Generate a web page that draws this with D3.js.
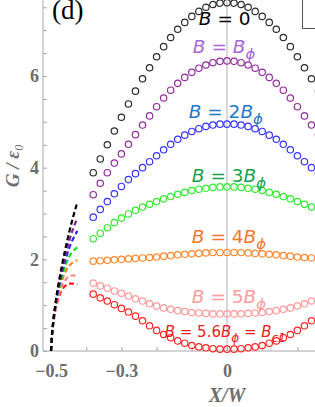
<!DOCTYPE html>
<html>
<head>
<meta charset="utf-8">
<script src="https://cdn.jsdelivr.net/npm/d3@7"></script>
<style>
  body { margin: 0; background: #fff; }
  svg { display: block; }
</style>
</head>
<body>
<div id="chart"></div>
<script>
// X/W positions of the markers
var xs = [-0.38,-0.36,-0.34,-0.32,-0.30,-0.28,-0.26,-0.24,-0.22,-0.20,-0.18,-0.16,-0.14,-0.12,-0.10,-0.08,-0.06,-0.04,-0.02,0,
          0.02,0.04,0.06,0.08,0.10,0.12,0.14,0.16,0.18,0.20,0.22,0.24,0.26];

// G / eps0 for each field value
var g0   = [3.89,4.19,4.50,4.80,5.10,5.39,5.67,5.94,6.18,6.42,6.64,6.84,7.02,7.17,7.30,7.41,7.50,7.56,7.59,7.60,
            7.59,7.56,7.50,7.41,7.30,7.17,7.02,6.84,6.64,6.42,6.18,5.94,5.67];
var g1   = [3.41,3.66,3.89,4.10,4.30,4.51,4.72,4.93,5.13,5.33,5.52,5.69,5.84,5.97,6.08,6.17,6.24,6.29,6.32,6.33,
            6.32,6.29,6.24,6.17,6.08,5.97,5.84,5.69,5.52,5.33,5.13,4.93,4.72];
var g2   = [2.92,3.09,3.26,3.43,3.59,3.74,3.87,4.00,4.13,4.26,4.39,4.51,4.62,4.71,4.79,4.85,4.90,4.93,4.95,4.95,
            4.95,4.93,4.90,4.85,4.79,4.71,4.62,4.51,4.39,4.26,4.13,4.00,3.87];
var g3   = [2.45,2.57,2.69,2.80,2.90,2.99,3.07,3.14,3.20,3.26,3.32,3.37,3.42,3.46,3.50,3.53,3.55,3.57,3.58,3.58,
            3.58,3.57,3.55,3.53,3.50,3.46,3.42,3.37,3.32,3.26,3.20,3.14,3.07];
var g4   = [1.96,1.97,1.98,1.99,2.00,2.01,2.02,2.03,2.04,2.05,2.07,2.08,2.10,2.11,2.12,2.13,2.14,2.15,2.15,2.15,
            2.15,2.15,2.14,2.13,2.12,2.11,2.10,2.08,2.07,2.05,2.04,2.03,2.02];
var g5   = [1.48,1.42,1.37,1.31,1.26,1.20,1.14,1.09,1.03,0.98,0.94,0.91,0.88,0.86,0.84,0.83,0.82,0.81,0.81,0.81,
            0.81,0.81,0.82,0.83,0.84,0.86,0.88,0.91,0.94,0.98,1.03,1.09,1.14];
var g56  = [1.24,1.16,1.09,1.01,0.93,0.85,0.76,0.66,0.55,0.45,0.36,0.29,0.22,0.17,0.12,0.09,0.07,0.05,0.04,0.04,
            0.04,0.05,0.07,0.09,0.12,0.17,0.22,0.29,0.36,0.45,0.55,0.66,0.76];

// dashed branches near the edge
var dashX   = [-0.5,-0.497,-0.493,-0.488,-0.482,-0.475,-0.467,-0.458,-0.448,-0.437,-0.425];
var dash0   = [0,0.38,0.70,1.00,1.32,1.62,1.94,2.27,2.60,2.93,3.25];
var dash1   = [0,0.37,0.68,0.97,1.27,1.55,1.84,2.13,2.41,2.67,2.90];
var dash2   = [0,0.37,0.67,0.95,1.23,1.49,1.76,2.01,2.25,2.45,2.62];
var dash3   = [0,0.36,0.66,0.93,1.19,1.43,1.67,1.88,2.06,2.18,2.26];
var dash4   = [0,0.36,0.65,0.91,1.15,1.37,1.57,1.74,1.86,1.94,1.98];
var dash5   = [0,0.35,0.63,0.88,1.10,1.29,1.45,1.56,1.63,1.65,1.63];
var dash56  = [0,0.35,0.62,0.86,1.06,1.23,1.35,1.43,1.47,1.47,1.45];

var yTicks = [0,0.5,1,1.5,2,2.5,3,3.5,4,4.5,5,5.5,6,6.5,7,7.5];
var yLabels = [0,2,4,6];
var xTicks = [-0.5,-0.4,-0.3,-0.2,-0.1,0,0.1,0.2];
var xLabels = [-0.5,-0.3,0];

var labels = [
  [["B","i"],[" = 0",""]],
  [["B","i"],[" = ",""],["B","i"],["ϕ","s"]],
  [["B","i"],[" = 2",""],["B","i"],["ϕ","s"]],
  [["B","i"],[" = 3",""],["B","i"],["ϕ","s"]],
  [["B","i"],[" = 4",""],["B","i"],["ϕ","s"]],
  [["B","i"],[" = 5",""],["B","i"],["ϕ","s"]],
  [["B","i"],[" = 5.6",""],["B","i"],["ϕ","s"],[" = ",""],["B","i"],["c1","s"]]
];

var series = [g0, g1, g2, g3, g4, g5, g56];
var dashes = [dash0, dash1, dash2, dash3, dash4, dash5, dash56];
var markColor = ["#2b2b2b","#922e9e","#3535ff","#33ea33","#ff8a30","#ff9a9a","#ff2626"];
var dashColor = ["#000000","#8a1f96","#2a2aff","#22dd22","#ff8420","#ff8a8a","#ff1a1a"];
var textColor = ["#000000","#a866d8","#1f78c8","#16a14e","#f07a2c","#ff9c9c","#ee1c1c"];
// label anchor (X/W, G) and font size
var labelPos = [[-0.08,7.12,18.5],[-0.097,6.51,18.5],[-0.109,5.09,18.5],[-0.1,3.69,18.5],[-0.1,2.36,18.5],[-0.1,1.05,18.5],[-0.177,0.31,15]];

width = 315
height = 407

var x = d3.scaleLinear().domain([-0.5, 0]).range([51, 227]);
var y = d3.scaleLinear().domain([0, 6]).range([351, 76]);
var axisX = 43, axisY = 351;

var svg = d3.select("#chart").append("svg")
    .attr("width", width)
    .attr("height", height)
    .style("font-family", "'DejaVu Sans'");

// zero line
svg.append("line")
    .attr("x1", x(0)).attr("x2", x(0))
    .attr("y1", 0).attr("y2", axisY)
    .attr("stroke", "#b0b0b0").attr("stroke-width", 1);

// axes
svg.append("line")
    .attr("x1", axisX).attr("x2", axisX).attr("y1", 0).attr("y2", axisY)
    .attr("stroke", "#a8a8a8");
svg.append("line")
    .attr("x1", axisX).attr("x2", width).attr("y1", axisY).attr("y2", axisY)
    .attr("stroke", "#a8a8a8");

var yAxis = svg.append("g")
    .attr("transform", "translate(" + axisX + ",0)")
    .call(d3.axisLeft(y).tickValues(yTicks).tickSizeInner(-4).tickSizeOuter(0).tickPadding(4)
      .tickFormat(function(d) { return yLabels.indexOf(d) >= 0 ? d : ""; }));

var xAxis = svg.append("g")
    .attr("transform", "translate(0," + axisY + ")")
    .call(d3.axisBottom(x).tickValues(xTicks).tickSizeInner(-4).tickSizeOuter(0).tickPadding(13)
      .tickFormat(function(d) { return xLabels.indexOf(d) >= 0 ? (d == 0 ? "0" : d3.format(".1f")(d).replace("-", "\u2212")) : ""; }));

svg.selectAll(".domain").remove();
svg.selectAll(".tick line").attr("stroke", "#a8a8a8");
svg.selectAll(".tick text")
    .attr("fill", "#6e6e6e")
    .style("font-family", "'Liberation Serif'")
    .style("font-weight", "bold")
    .style("font-size", "18px");

// axis titles
svg.append("text")
    .attr("transform", "translate(19,166) rotate(-90)")
    .attr("text-anchor", "middle")
    .attr("fill", "#6e6e6e")
    .style("font-family", "'Liberation Serif'")
    .style("font-weight", "bold")
    .style("font-style", "italic")
    .style("font-size", "19px")
    .call(function(t) {
      t.append("tspan").text("G / \u03b5");
      t.append("tspan").text("0").attr("dy", 4).style("font-size", "12px").style("font-weight", "normal");
    });

svg.append("text")
    .attr("x", x(0)).attr("y", 402)
    .attr("text-anchor", "middle")
    .attr("fill", "#6e6e6e")
    .style("font-family", "'Liberation Serif'")
    .style("font-weight", "bold")
    .style("font-style", "italic")
    .style("font-size", "20px")
    .text("X/W");

// panel tag and legend box corner
svg.append("text")
    .attr("x", 52).attr("y", 19)
    .style("font-family", "'Liberation Serif'")
    .style("font-size", "27px")
    .text("(d)");

svg.append("rect")
    .attr("x", 302.5).attr("y", -5).attr("width", 40).attr("height", 33.5)
    .attr("fill", "#fff").attr("stroke", "#555").attr("stroke-width", 1);

// dashed branches
var line = d3.line()
    .x(function(d) { return x(d[0]); })
    .y(function(d) { return y(d[1]); })
    .curve(d3.curveMonotoneX);

for (var i = dashes.length - 1; i >= 0; i--) {
  svg.append("path")
      .datum(dashX.map(function(v, j) { return [v, dashes[i][j]]; }))
      .attr("d", line)
      .attr("fill", "none")
      .attr("stroke", dashColor[i])
      .attr("stroke-width", 2.2)
      .attr("stroke-dasharray", "5,3");
}

// markers
series.forEach(function(s, i) {
  svg.append("g")
    .selectAll("circle")
    .data(xs.map(function(v, j) { return [v, s[j]]; }))
    .enter().append("circle")
      .attr("cx", function(d) { return x(d[0]); })
      .attr("cy", function(d) { return y(d[1]); })
      .attr("r", 3.2)
      .attr("fill", "none")
      .attr("stroke", markColor[i])
      .attr("stroke-width", 1.2);
});

// curve labels
labels.forEach(function(parts, i) {
  var p = labelPos[i];
  var t = svg.append("text")
      .attr("x", x(p[0])).attr("y", y(p[1]))
      .attr("fill", textColor[i])
      .style("font-size", p[2] + "px");
  var shift = 0, drop = Math.round(p[2] * 0.3);
  parts.forEach(function(pt) {
    var ts = t.append("tspan").text(pt[0]);
    if (pt[1] == "i" || pt[1] == "s") ts.style("font-style", "italic");
    if (pt[1] == "s") {
      ts.style("font-size", (p[2] * 0.8) + "px").attr("dy", drop - shift);
      shift = drop;
    } else if (shift) {
      ts.attr("dy", -shift);
      shift = 0;
    }
  });
});
</script>
</body>
</html>
